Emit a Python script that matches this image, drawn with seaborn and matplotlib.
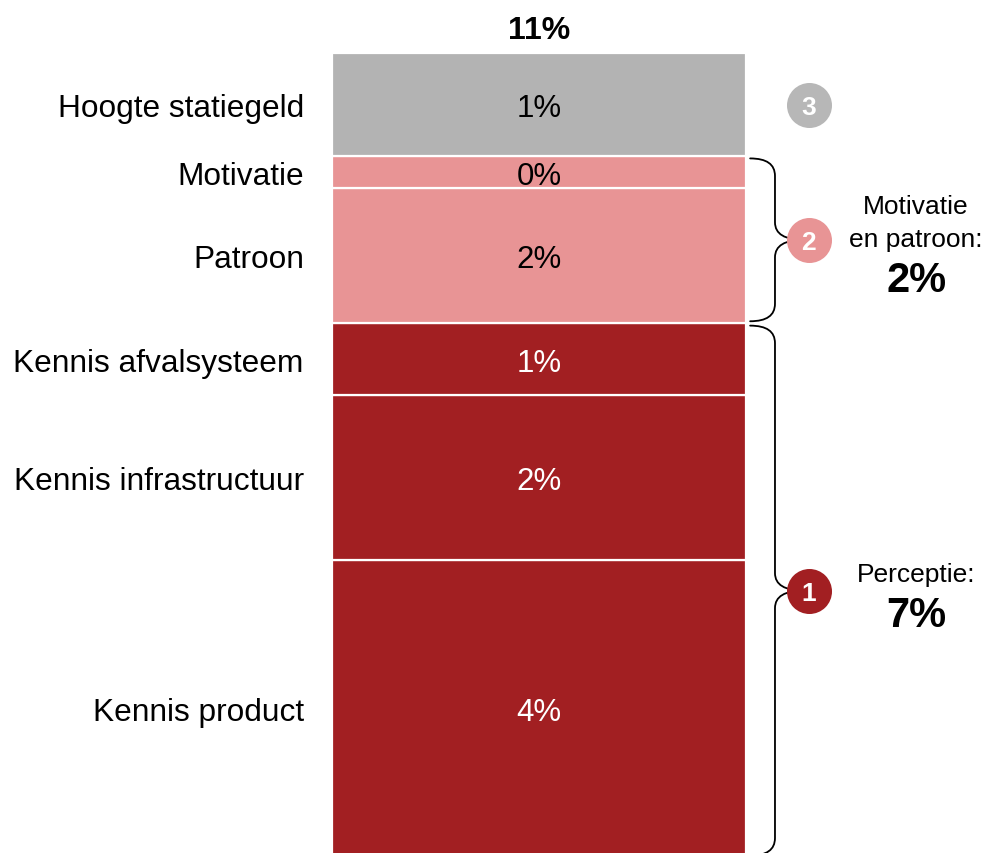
import matplotlib.pyplot as plt
import seaborn as sns
import numpy as np
from matplotlib.path import Path
from matplotlib.patches import PathPatch

# Data (bottom to top), percentages
labels = ["Kennis product", "Kennis infrastructuur", "Kennis afvalsysteem",
          "Patroon", "Motivatie", "Hoogte statiegeld"]
values = [4.1, 2.27, 0.98, 1.86, 0.44, 1.42]
groups = [1, 1, 1, 2, 2, 3]
group_titles = {1: ["Perceptie:"], 2: ["Motivatie", "en patroon:"]}

colors = {1: "#A21F22", 2: "#E89495", 3: "#B3B3B3"}
text_colors = {1: "white", 2: "black", 3: "black"}

sns.set_theme(style="white")
plt.rcParams['font.family'] = ['Liberation Sans', 'DejaVu Sans']

fig = plt.figure(figsize=(9.87, 8.54), dpi=100)
ax = fig.add_axes([0, 0, 1, 1])

# Function to draw a curly brace on the right of a span
def draw_brace(ax, y_bot, y_top, y_tip, x0, x1, x2, r):
    verts = [
        (x0, y_top),
        (x1, y_top), (x1, y_top - r),
        (x1, y_tip + r),
        (x1, y_tip), (x2, y_tip),
        (x1, y_tip), (x1, y_tip - r),
        (x1, y_bot + r),
        (x1, y_bot), (x0, y_bot),
    ]
    codes = [Path.MOVETO,
             Path.CURVE3, Path.CURVE3,
             Path.LINETO,
             Path.CURVE3, Path.CURVE3,
             Path.CURVE3, Path.CURVE3,
             Path.LINETO,
             Path.CURVE3, Path.CURVE3]
    ax.add_patch(PathPatch(Path(verts, codes), facecolor="none",
                           edgecolor="black", lw=1.3, capstyle="round"))

# Stacked bar
bottoms = np.concatenate([[0], np.cumsum(values)[:-1]])
for lab, val, bot, g in zip(labels, values, bottoms, groups):
    ax.bar(0, val, bottom=bot, width=1, color=colors[g],
           edgecolor="white", linewidth=1.6)
    mid = bot + val / 2
    ax.text(0, mid, f"{val:.0f}%", ha="center", va="center_baseline",
            fontsize=22.5, color=text_colors[g])
    ax.text(-0.568, mid, lab, ha="right", va="center_baseline", fontsize=22.8, color="black")

total = sum(values)
ax.text(0, total + 0.32, f"{total:.0f}%", ha="center", va="center",
        fontsize=23, fontweight="bold", color="black")

# Group annotations: braces, numbered circles, totals
circle_x = 0.652
text_x = 0.911
for g in [2, 1]:
    idx = [i for i, gg in enumerate(groups) if gg == g]
    y_bot = bottoms[idx[0]] + 0.03
    y_top = bottoms[idx[-1]] + values[idx[-1]] - 0.03
    y_tip = (y_bot + y_top) / 2
    draw_brace(ax, y_bot, y_top, y_tip, 0.51, 0.57, 0.64, 0.24)
    ax.scatter([circle_x], [y_tip], s=1050, color=colors[g], zorder=5, linewidths=0)
    ax.text(circle_x, y_tip, str(g), ha="center", va="center_baseline", fontsize=19,
            fontweight="bold", color="white", zorder=6)
    lines = group_titles[g]
    first = (33 * (len(lines) - 1) + 39) / 2
    for k, line in enumerate(lines):
        ax.annotate(line, (text_x, y_tip), xytext=(0, first - 33 * k),
                    textcoords="offset pixels", ha="center", va="center_baseline",
                    fontsize=19, color="black")
    gsum = sum(values[i] for i in idx)
    ax.annotate(f"{gsum:.0f}%", (text_x, y_tip), xytext=(0, first - 33 * (len(lines) - 1) - 39),
                textcoords="offset pixels", ha="center", va="center_baseline",
                fontsize=30, fontweight="bold", color="black")

# Group 3 circle only
i3 = groups.index(3)
y3 = bottoms[i3] + values[i3] / 2
ax.scatter([circle_x], [y3], s=1050, color="#B7B7B7", zorder=5, linewidths=0)
ax.text(circle_x, y3, "3", ha="center", va="center_baseline", fontsize=19,
        fontweight="bold", color="white", zorder=6)

# bar top sits 54 px below the top edge, bottom of the bar runs just off the figure
px_per_unit = 72.7
y_hi = total + 54 / px_per_unit
ax.set_xlim(-0.5 - 332 / 414, 0.5 + (987 - 746) / 414)
ax.set_ylim(y_hi - 854 / px_per_unit, y_hi)
ax.axis("off")

fig.savefig("out.png", dpi=100)
